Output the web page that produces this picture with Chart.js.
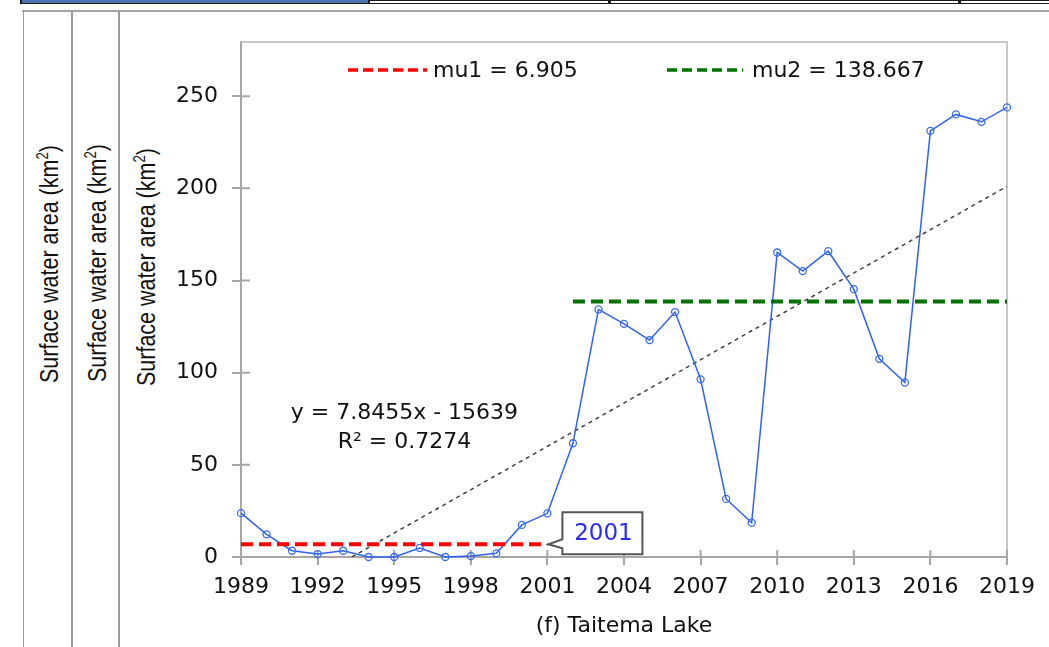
<!DOCTYPE html>
<html><head><meta charset="utf-8">
<script src="https://cdn.jsdelivr.net/npm/chart.js@4.4.1/dist/chart.umd.min.js"></script>
<style>
html,body{margin:0;padding:0;background:#fff;}
#wrap{position:relative;width:1049px;height:647px;overflow:hidden;background:#fff;}
canvas{position:absolute;left:0;top:0;}
.ln{position:absolute;}
.ytl{position:absolute;font-family:"Liberation Sans",Arial,sans-serif;font-size:21.5px;color:#111;white-space:nowrap;transform:translate(-50%,-50%) rotate(-90deg) scale(1,1.18);}
.ytl sup{font-size:0.62em;line-height:0;}
</style></head>
<body><div id="wrap">
<div class="ln" style="left:20px;top:0;width:1029px;height:4px;background:#1c1c1c"></div>
<div class="ln" style="left:22px;top:0;width:346px;height:2.5px;background:#4d72ad"></div>
<div class="ln" style="left:370px;top:1px;width:238px;height:1.5px;background:#fff"></div>
<div class="ln" style="left:611px;top:1px;width:347px;height:1.5px;background:#fff"></div>
<div class="ln" style="left:961px;top:1px;width:88px;height:1.5px;background:#fff"></div>
<div class="ln" style="left:22px;top:10px;width:1027px;height:1.5px;background:#a3a3a3"></div>
<div class="ln" style="left:22.5px;top:10px;width:1.5px;height:637px;background:#9a9a9a"></div>
<div class="ln" style="left:71px;top:10px;width:1.5px;height:637px;background:#9a9a9a"></div>
<div class="ln" style="left:118px;top:10px;width:1.5px;height:637px;background:#9a9a9a"></div>
<div class="ytl" style="left:50px;top:264px">Surface water area (km<sup>2</sup>)</div>
<div class="ytl" style="left:98px;top:263px">Surface water area (km<sup>2</sup>)</div>
<div class="ytl" style="left:147px;top:267px">Surface water area (km<sup>2</sup>)</div>
<canvas id="c" width="1049" height="647"></canvas>
</div>
<script>
// ---- data ----
const years = [1989,1990,1991,1992,1993,1994,1995,1996,1997,1998,1999,2000,2001,2002,2003,2004,2005,2006,2007,2008,2009,2010,2011,2012,2013,2014,2015,2016,2017,2018,2019];
const areaValues = [23.8,12.3,3.4,1.6,3.4,0,0,4.9,0,0.5,2,17.4,23.7,61.7,134.3,126.5,117.7,132.9,96.4,31.5,18.6,165.2,155.1,165.9,145.3,107.5,94.7,231.2,240.1,236.1,243.9];
const mu1Years = [1989,2001];
const mu1Value = 6.905;
const mu2Years = [2002,2019];
const mu2Value = 138.667;
const trendYears = [1993.34,2019];
const trendValues = [0,201.1];
const xTickValues = [1989,1992,1995,1998,2001,2004,2007,2010,2013,2016,2019];
const yTickValues = [0,50,100,150,200,250];
const legendLabels = ['mu1 = 6.905','mu2 = 138.667'];
const equationLines = ['y = 7.8455x - 15639','R\u00b2 = 0.7274'];
const calloutText = '2001';
const xTitle = '(f) Taitema Lake';

Chart.defaults.font.family = '"DejaVu Sans", sans-serif';
Chart.defaults.color = '#111';

const AXIS = '#a6a6a6';

const decor = {
  id:'decor',
  beforeDatasetsDraw(chart){
    const {ctx, chartArea:a, scales:{x,y}} = chart;
    ctx.save();
    ctx.strokeStyle = '#c8c8c8'; ctx.lineWidth = 2;
    ctx.beginPath();
    ctx.moveTo(a.left, a.top); ctx.lineTo(a.right, a.top); ctx.lineTo(a.right, a.bottom);
    ctx.stroke();
    ctx.strokeStyle = AXIS; ctx.lineWidth = 2;
    ctx.beginPath();
    xTickValues.forEach(v=>{const px=x.getPixelForValue(v); ctx.moveTo(px,a.bottom); ctx.lineTo(px,a.bottom-7);});
    yTickValues.forEach(v=>{const py=y.getPixelForValue(v); ctx.moveTo(a.left,py); ctx.lineTo(a.left+9,py);});
    ctx.stroke();
    ctx.restore();
  },
  afterDatasetsDraw(chart){
    const {ctx, scales:{x,y}} = chart;
    ctx.save();
    // legend
    const leg = [{ds:0, x0:348, x1:427, tx:433}, {ds:1, x0:667, x1:743, tx:752}];
    leg.forEach(l=>{
      const d = chart.data.datasets[l.ds];
      ctx.strokeStyle = d.borderColor; ctx.lineWidth = 3.5; ctx.setLineDash([10,5]);
      ctx.beginPath(); ctx.moveTo(l.x0,70); ctx.lineTo(l.x1,70); ctx.stroke();
      ctx.setLineDash([]);
      ctx.fillStyle = '#111'; ctx.font = '22px "DejaVu Sans"'; ctx.textBaseline='middle'; ctx.textAlign='left';
      ctx.fillText(d.label, l.tx, 71);
    });
    // equation
    ctx.font = '22px "DejaVu Sans"'; ctx.textAlign='center'; ctx.fillStyle='#111';
    ctx.fillText(equationLines[0], x.getPixelForValue(1995.4), y.getPixelForValue(78));
    ctx.fillText(equationLines[1], x.getPixelForValue(1995.4), y.getPixelForValue(62.4));
    // callout
    const tx = x.getPixelForValue(mu1Years[1]), ty = y.getPixelForValue(mu1Value);
    const bl = tx+15, br = tx+95, bt = ty-32, bb = ty+10;
    ctx.beginPath();
    ctx.moveTo(bl, bt); ctx.lineTo(br, bt); ctx.lineTo(br, bb); ctx.lineTo(bl, bb);
    ctx.lineTo(bl, ty+4); ctx.lineTo(tx+1, ty); ctx.lineTo(bl, ty-5); ctx.closePath();
    ctx.fillStyle='#fff'; ctx.fill();
    ctx.strokeStyle='#555'; ctx.lineWidth=2; ctx.stroke();
    ctx.fillStyle='#2b2bff'; ctx.font='23px "DejaVu Sans"'; ctx.textAlign='center'; ctx.textBaseline='middle';
    ctx.fillText(calloutText, (bl+br)/2+1, (bt+bb)/2+1);
    ctx.restore();
  }
};

new Chart(document.getElementById('c'), {
  type:'line',
  data:{
    datasets:[
      {label:legendLabels[0], data:mu1Years.map(v=>({x:v,y:mu1Value})), borderColor:'#ff0000', borderWidth:4, borderDash:[12,6], pointRadius:0, fill:false},
      {label:legendLabels[1], data:mu2Years.map(v=>({x:v,y:mu2Value})), borderColor:'#007000', borderWidth:4, borderDash:[12,6], pointRadius:0, fill:false},
      {label:'Surface water area', data:years.map((v,i)=>({x:v,y:areaValues[i]})), borderColor:'#2f62f0', borderWidth:1.5,
       pointRadius:3.5, pointBorderWidth:1.3, pointBackgroundColor:'rgba(255,255,255,0)', pointBorderColor:'#3a6cf0', tension:0, clip:false},
      {label:'Linear trend', data:trendYears.map((v,i)=>({x:v,y:trendValues[i]})), borderColor:'#404040', borderWidth:1.5, borderDash:[4,4], pointRadius:0}
    ]
  },
  options:{
    responsive:false, animation:false, devicePixelRatio:1,
    layout:{padding:{left:161, right:42, top:42, bottom:0}},
    plugins:{legend:{display:false}, tooltip:{enabled:false}},
    scales:{
      x:{type:'linear', min:1989, max:2019,
        afterBuildTicks(s){ s.ticks = xTickValues.map(v=>({value:v})); },
        afterFit(s){ s.height = 90; },
        ticks:{callback:v=>String(v), font:{size:22}, color:'#111', padding:9, maxRotation:0, autoSkip:false},
        grid:{drawOnChartArea:false, tickLength:8, color:AXIS, lineWidth:2},
        border:{color:AXIS, width:2},
        title:{display:true, text:xTitle, font:{size:22}, color:'#111', padding:{top:4,bottom:8}}
      },
      y:{min:0, max:279.4,
        afterBuildTicks(s){ s.ticks = yTickValues.map(v=>({value:v})); },
        afterFit(s){ s.width = 80; },
        ticks:{callback:v=>String(v), font:{size:22}, color:'#111', padding:14},
        grid:{drawOnChartArea:false, tickLength:9, color:AXIS, lineWidth:2},
        border:{color:AXIS, width:2},
        title:{display:false}
      }
    }
  },
  plugins:[decor]
});
</script>
</body></html>
